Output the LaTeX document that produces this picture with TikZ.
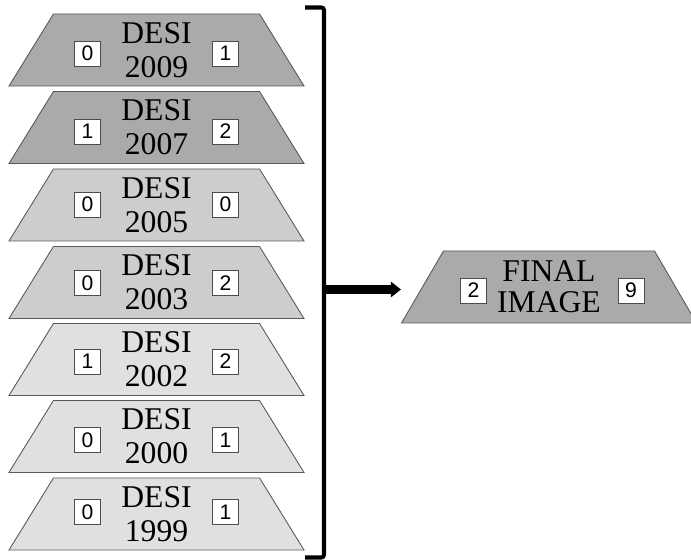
\documentclass[tikz,border=0pt]{standalone}
\usepackage{fontspec}
\setmainfont{Liberation Serif}
\newfontfamily\digitfont{Liberation Sans}
\usepackage{tikz}
\usetikzlibrary{shapes.geometric, arrows.meta, positioning}

\definecolor{layerdark}{RGB}{170,170,170}
\definecolor{layermid}{RGB}{205,205,205}
\definecolor{layerlight}{RGB}{224,224,224}

\begin{document}
\begin{tikzpicture}[
    every node/.style={font=\fontsize{18}{19.3}\selectfont},
    % Layer styles
    layer/.style={trapezium, trapezium left angle=51.15, trapezium right angle=51.15, trapezium stretches body, draw=black!65, line width=0.5pt, minimum width=5.9cm, minimum height=1.44cm, inner sep=0pt, align=center},
    count/.style={rectangle, draw=black!70, fill=white, line width=0.5pt, minimum width=0.52cm, minimum height=0.5cm, inner sep=0pt, font=\digitfont\fontsize{12}{14}\selectfont},
    % Arrow styles
    bracket/.style={line width=2.3pt, rounded corners=1.5pt},
    mergeflow/.style={-{Triangle[length=0.2cm, width=0.3cm]}, line width=5pt}
]
\useasboundingbox (0,0) rectangle (13.82,11.2);

% Stacked layers
\node[layer, fill=layerdark] (desi2009) at (3.13, 10.20) {DESI\\2009};
\node[count] (l2009) at (1.75, 10.13) {0};
\node[count] (r2009) at (4.51, 10.13) {1};

\node[layer, fill=layerdark] (desi2007) at (3.13, 8.65) {DESI\\2007};
\node[count] (l2007) at (1.75, 8.57) {1};
\node[count] (r2007) at (4.51, 8.57) {2};

\node[layer, fill=layermid] (desi2005) at (3.13, 7.10) {DESI\\2005};
\node[count] (l2005) at (1.75, 7.11) {0};
\node[count] (r2005) at (4.51, 7.11) {0};

\node[layer, fill=layermid] (desi2003) at (3.13, 5.55) {DESI\\2003};
\node[count] (l2003) at (1.75, 5.54) {0};
\node[count] (r2003) at (4.51, 5.54) {2};

\node[layer, fill=layerlight] (desi2002) at (3.13, 4.01) {DESI\\2002};
\node[count] (l2002) at (1.75, 3.97) {1};
\node[count] (r2002) at (4.51, 3.97) {2};

\node[layer, fill=layerlight] (desi2000) at (3.13, 2.47) {DESI\\2000};
\node[count] (l2000) at (1.75, 2.40) {0};
\node[count] (r2000) at (4.51, 2.40) {1};

\node[layer, fill=layerlight] (desi1999) at (3.13, 0.92) {DESI\\1999};
\node[count] (l1999) at (1.75, 0.96) {0};
\node[count] (r1999) at (4.51, 0.96) {1};

% Result
\node[layer, fill=layerdark, font=\fontsize{18}{17.6}\selectfont] (final) at (10.98, 5.46) {FINAL\\IMAGE};
\node[count] (lfinal) at (9.47, 5.39) {2};
\node[count] (rfinal) at (12.62, 5.39) {9};

% Bracket and merge arrow
\coordinate (bracetop) at (6.48, 11.05);
\coordinate (bracebot) at (6.48, 0.05);
\coordinate (merge) at (6.48, 5.41);
\draw[bracket] (6.10, 11.05) -- (bracetop) -- (bracebot) -- (6.10, 0.05);
\draw[mergeflow, shorten >=0.42cm] (merge) -- (merge -| final.west);

\end{tikzpicture}
\end{document}
